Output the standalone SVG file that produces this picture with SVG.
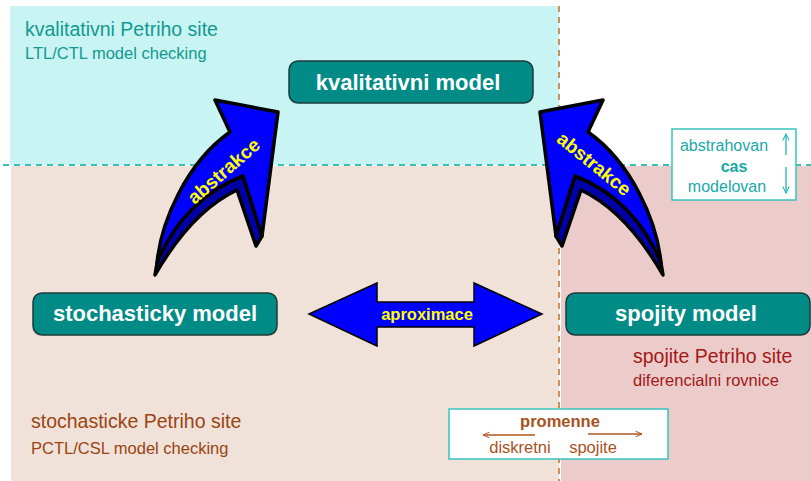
<svg xmlns="http://www.w3.org/2000/svg" width="811" height="481" viewBox="0 0 811 481">
  <style>
    .node rect { fill: #008b86; stroke: #1d3b39; stroke-width: 1.5; }
    .node text { font-family: "Liberation Sans", Arial, sans-serif; font-weight: bold; font-size: 22px; fill: #ffffff; text-anchor: middle; }
    .lbl { font-family: "Liberation Sans", Arial, sans-serif; }
    .big { font-size: 19.5px; }
    .small { font-size: 16.5px; }
    .teal { fill: #12998f; }
    .brown { fill: #9a4412; }
    .red { fill: #a31818; }
    .face { fill: #0000ff; stroke: #000; stroke-width: 3.5; stroke-linejoin: round; }
    .side { fill: #0000a8; stroke: #000; stroke-width: 3.5; stroke-linejoin: round; }
    .ytext { font-family: "Liberation Sans", Arial, sans-serif; font-weight: bold; font-size: 19px; fill: #ffff00; text-anchor: middle; }
    .note { fill: #ffffff; stroke: #36c3c0; stroke-width: 1.5; }
  </style>
  <defs>
    <marker id="openTeal" viewBox="0 0 10 10" refX="9" refY="5" markerWidth="8" markerHeight="8" orient="auto-start-reverse" markerUnits="userSpaceOnUse">
      <path d="M1,1 L9,5 L1,9" fill="none" stroke="#22b8b4" stroke-width="1.3"/>
    </marker>
    <marker id="openBrown" viewBox="0 0 10 10" refX="9" refY="5" markerWidth="10" markerHeight="8" orient="auto-start-reverse" markerUnits="userSpaceOnUse">
      <path d="M1,1.5 L9,5 L1,8.5" fill="none" stroke="#b0561f" stroke-width="1.2"/>
    </marker>
    <!-- curved 3D arrow, drawn pointing up-right: dark side band, then the front face -->
    <g id="curvedArrow">
      <path class="side" d="M243,176 L262,236 L256,246 L237,190 C201,207 174,242 155,275 L157,263 C173,222 205,190 243,176 Z"/>
      <path class="face" d="M157,263 C161,222 186,163 230,132 L215,100 L278,112 L262,236 L243,176 C205,190 173,222 157,263 Z"/>
    </g>
  </defs>

  <!-- background zones -->
  <g id="zones">
    <rect x="10" y="6" width="549" height="159" fill="#c9f4f4"/>
    <rect x="11" y="166" width="548" height="315" fill="#f0e1d9"/>
    <rect x="561" y="166" width="250" height="315" fill="#ecccca"/>
    <line x1="3" y1="165" x2="811" y2="165" stroke="#3bbfb5" stroke-width="2" stroke-dasharray="6 5"/>
    <line x1="559" y1="6" x2="559" y2="481" stroke="#c8925a" stroke-width="2" stroke-dasharray="6 5"/>
  </g>

  <!-- zone captions -->
  <g id="captions" class="lbl">
    <text x="25" y="36" class="big teal">kvalitativni Petriho site</text>
    <text x="25" y="59" class="small teal">LTL/CTL model checking</text>
    <text x="31" y="428" class="big brown">stochasticke Petriho site</text>
    <text x="31" y="454" class="small brown">PCTL/CSL model checking</text>
    <text x="633" y="363" class="big red">spojite Petriho site</text>
    <text x="633" y="386" class="small red">diferencialni rovnice</text>
  </g>

  <!-- connectors -->
  <g id="connectors">
    <g id="abstrakce-left">
      <use href="#curvedArrow"/>
      <text class="ytext" transform="translate(228,176) rotate(-41)">abstrakce</text>
    </g>
    <g id="abstrakce-right">
      <use href="#curvedArrow" transform="translate(818,0) scale(-1,1)"/>
      <text class="ytext" transform="translate(590,169) rotate(39)">abstrakce</text>
    </g>
    <g id="aproximace">
      <polygon points="309,314 377,283 377,302 474,302 474,283 542,314 474,346 474,327 377,327 377,346" fill="#0000ff" stroke="#000" stroke-width="1.5" stroke-linejoin="miter"/>
      <text x="427" y="320" class="ytext" style="font-size:16.5px">aproximace</text>
    </g>
  </g>

  <!-- model nodes -->
  <g id="kvalitativni" class="node">
    <rect x="289" y="61" width="244" height="42" rx="9"/>
    <text x="408" y="90">kvalitativni model</text>
  </g>
  <g id="stochasticky" class="node">
    <rect x="33" y="293" width="244" height="42" rx="9"/>
    <text x="155" y="321">stochasticky model</text>
  </g>
  <g id="spojity" class="node">
    <rect x="566" y="293" width="244" height="42" rx="9"/>
    <text x="686" y="321">spojity model</text>
  </g>

  <!-- time note -->
  <g id="cas-note">
    <rect class="note" x="672" y="129" width="124" height="71"/>
    <g class="lbl" font-size="16px" fill="#1aa9a6" text-anchor="middle">
      <text x="724" y="151">abstrahovan</text>
      <text x="734" y="172" font-weight="bold">cas</text>
      <text x="727" y="192">modelovan</text>
    </g>
    <line x1="786" y1="155" x2="786" y2="134" stroke="#22b8b4" stroke-width="1.3" marker-end="url(#openTeal)"/>
    <line x1="786" y1="167" x2="786" y2="193" stroke="#22b8b4" stroke-width="1.3" marker-end="url(#openTeal)"/>
  </g>

  <!-- variables note -->
  <g id="promenne-note">
    <rect class="note" x="449" y="409" width="219" height="50"/>
    <g class="lbl" fill="#a8521e" text-anchor="middle">
      <text x="560" y="427" font-size="16.5px" font-weight="bold">promenne</text>
      <text x="520" y="453" font-size="16.5px">diskretni</text>
      <text x="593" y="453" font-size="16.5px">spojite</text>
    </g>
    <line x1="535" y1="435" x2="483" y2="435" stroke="#b0561f" stroke-width="1.3" marker-end="url(#openBrown)"/>
    <line x1="588" y1="434" x2="642" y2="434" stroke="#b0561f" stroke-width="1.3" marker-end="url(#openBrown)"/>
  </g>
</svg>
